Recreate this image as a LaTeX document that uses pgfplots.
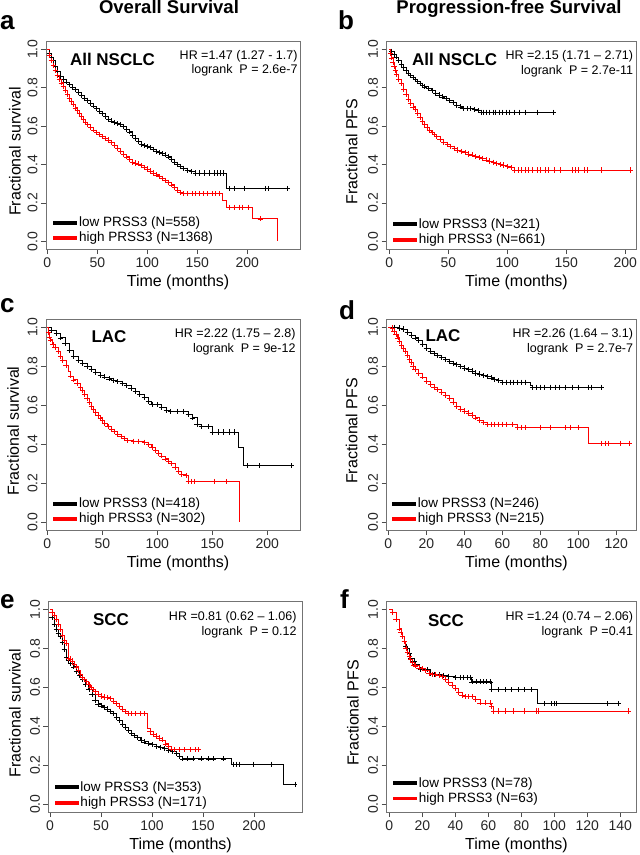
\documentclass[border=0pt]{standalone}
\usepackage{pgfplots}
\usepackage{pgfplotstable}
\pgfplotsset{compat=1.18}
\usepackage{fontspec}
\setmainfont{Liberation Sans}
\setsansfont{Liberation Sans}

\pgfplotstableread{
t s m
0 1.0 0
2 0.98 1
4 0.96 1
6 0.94 1
8 0.91 1
10 0.885 1
13 0.86 1
16 0.845 1
19 0.83 1
22 0.815 1
25 0.80 1
28 0.79 1
31 0.775 1
34 0.76 1
37 0.745 1
40 0.735 1
43 0.72 1
46 0.705 1
49 0.69 1
52 0.677 1
55 0.665 1
58 0.65 1
61 0.637 1
64 0.627 1
67 0.618 1
70 0.612 1
73 0.607 1
76 0.598 1
79 0.585 1
82 0.57 1
85 0.552 1
88 0.535 1
91 0.52 1
94 0.505 1
97 0.498 1
100 0.493 1
103 0.487 1
106 0.478 1
109 0.468 1
112 0.462 1
115 0.456 1
118 0.45 1
121 0.44 1
124 0.425 1
127 0.41 1
130 0.40 1
133 0.39 1
136 0.38 1
140 0.37 1
144 0.362 1
148 0.356 1
152 0.356 1
157 0.356 1
162 0.356 1
167 0.356 1
170 0.356 1
173 0.356 1
176 0.356 1
179 0.275 0
182 0.275 1
187 0.275 1
197 0.275 1
218 0.275 1
221 0.275 1
240 0.275 1
}\aLow

\pgfplotstableread{
t s m
0 1.0 0
2 0.97 1
4 0.94 1
6 0.915 1
8 0.89 1
10 0.865 1
12 0.845 1
14 0.825 1
16 0.805 1
18 0.785 1
20 0.765 1
22 0.745 1
24 0.73 1
26 0.715 1
28 0.695 1
30 0.68 1
32 0.665 1
34 0.65 1
36 0.635 1
38 0.62 1
40 0.61 1
43 0.595 1
46 0.58 1
49 0.568 1
52 0.557 1
55 0.547 1
58 0.537 1
61 0.527 1
64 0.515 1
67 0.50 1
70 0.485 1
73 0.47 1
76 0.455 1
79 0.44 1
82 0.425 1
85 0.413 1
88 0.408 1
91 0.403 1
94 0.395 1
97 0.385 1
100 0.376 1
103 0.366 1
106 0.356 1
109 0.346 1
112 0.336 1
115 0.328 1
118 0.318 1
121 0.307 1
124 0.294 1
127 0.28 1
130 0.266 1
133 0.254 1
136 0.248 1
140 0.248 1
145 0.248 1
148 0.248 1
152 0.248 1
156 0.248 1
160 0.248 1
165 0.248 1
168 0.248 1
172 0.248 1
175 0.213 0
179 0.178 0
182 0.178 1
187 0.178 1
192 0.178 1
195 0.178 1
201 0.178 1
205 0.117 0
213 0.117 1
230 0.0 0
}\aHigh

\pgfplotstableread{
t s m
0 1.0 0
2 0.99 1
4 0.975 1
6 0.96 1
8 0.94 1
10 0.92 1
12 0.905 1
14 0.89 1
16 0.875 1
18 0.862 1
20 0.852 1
22 0.842 1
24 0.832 1
26 0.822 1
28 0.812 1
30 0.804 1
33 0.794 1
36 0.784 1
39 0.772 1
42 0.762 1
45 0.752 1
48 0.742 1
51 0.732 1
54 0.722 1
57 0.71 1
60 0.70 1
63 0.692 1
66 0.69 1
69 0.69 1
72 0.685 1
75 0.68 1
78 0.672 1
80 0.672 1
82 0.672 1
85 0.672 1
88 0.672 1
90 0.672 1
93 0.672 1
96 0.672 1
99 0.672 1
102 0.672 1
106 0.672 1
110 0.672 1
115 0.672 1
125 0.672 1
139 0.672 1
}\bLow

\pgfplotstableread{
t s m
0 1.0 0
1 0.98 1
2 0.955 1
3 0.93 1
4 0.91 1
5 0.89 1
6 0.87 1
8 0.845 1
10 0.82 1
12 0.79 1
14 0.765 1
16 0.74 1
18 0.72 1
20 0.70 1
22 0.685 1
24 0.665 1
26 0.645 1
28 0.625 1
30 0.61 1
32 0.595 1
34 0.58 1
36 0.565 1
38 0.555 1
40 0.545 1
43 0.53 1
46 0.515 1
49 0.505 1
52 0.495 1
55 0.485 1
58 0.475 1
61 0.468 1
64 0.462 1
67 0.455 1
70 0.45 1
73 0.443 1
76 0.437 1
79 0.43 1
82 0.424 1
85 0.418 1
88 0.412 1
91 0.406 1
94 0.40 1
97 0.397 1
100 0.39 1
103 0.383 1
106 0.371 1
109 0.371 1
112 0.371 1
115 0.371 1
118 0.371 1
121 0.371 1
125 0.371 1
128 0.371 1
132 0.371 1
135 0.371 1
140 0.371 1
145 0.371 1
155 0.371 1
158 0.371 1
160 0.371 1
165 0.371 1
168 0.371 1
180 0.371 1
204 0.371 1
}\bHigh

\pgfplotstableread{
t s m
0 1.0 0
4 0.985 1
8 0.97 1
12 0.945 1
16 0.915 1
20 0.88 1
24 0.85 1
28 0.83 1
32 0.815 1
36 0.80 1
40 0.785 1
44 0.77 1
48 0.755 1
52 0.745 1
56 0.735 1
60 0.728 1
64 0.72 1
68 0.712 1
72 0.70 1
76 0.685 1
80 0.67 1
84 0.655 1
88 0.64 1
92 0.62 1
95 0.603 1
100 0.603 1
104 0.59 1
108 0.575 1
112 0.567 1
118 0.567 1
124 0.567 1
128 0.552 1
132 0.535 1
136 0.50 1
140 0.49 1
146 0.49 1
150 0.462 1
155 0.462 1
160 0.462 1
165 0.462 1
170 0.462 1
174 0.385 0
178 0.29 0
182 0.29 1
193 0.29 1
222 0.29 1
}\cLow

\pgfplotstableread{
t s m
0 1.0 0
1 0.975 1
2 0.95 1
3 0.935 1
5 0.91 1
7 0.895 1
10 0.875 1
12 0.85 1
14 0.83 1
17 0.805 1
19 0.775 0
21 0.75 1
24 0.73 1
27 0.71 1
30 0.69 1
32 0.675 1
34 0.655 1
36 0.635 1
38 0.615 1
40 0.595 1
42 0.58 1
44 0.565 1
46 0.55 1
48 0.535 1
50 0.52 1
52 0.505 1
55 0.49 1
58 0.478 1
61 0.465 1
64 0.452 1
67 0.44 1
70 0.43 1
73 0.418 1
78 0.415 1
83 0.415 1
88 0.41 1
92 0.40 1
95 0.385 1
98 0.37 1
101 0.355 1
104 0.34 1
107 0.325 1
110 0.31 1
113 0.30 1
116 0.28 1
119 0.26 1
122 0.245 1
126 0.24 1
128 0.209 1
131 0.209 1
134 0.209 1
152 0.209 1
163 0.209 1
175 0.0 0
}\cHigh

\pgfplotstableread{
t s m
0 1.0 0
3 1.0 1
6 0.995 1
8 0.99 1
10 0.975 1
12 0.96 1
14 0.945 1
16 0.93 1
18 0.91 1
20 0.89 1
22 0.875 1
24 0.865 1
26 0.855 1
28 0.845 1
30 0.835 1
32 0.825 1
34 0.815 1
36 0.81 1
38 0.80 1
40 0.79 1
42 0.782 1
44 0.775 1
46 0.765 1
48 0.76 1
50 0.752 1
52 0.746 1
54 0.74 1
56 0.732 1
58 0.725 1
60 0.718 1
62 0.718 1
64 0.718 1
66 0.718 1
68 0.718 1
70 0.718 1
72 0.718 1
75 0.70 0
76 0.692 1
78 0.692 1
80 0.692 1
82 0.692 1
85 0.692 1
88 0.692 1
90 0.692 1
93 0.692 1
97 0.692 1
100 0.692 1
105 0.692 1
107 0.692 1
112 0.692 1
}\dLow

\pgfplotstableread{
t s m
0 1.0 0
2 0.995 1
3 0.98 1
4 0.965 1
5 0.945 1
6 0.925 1
7 0.905 1
8 0.89 1
9 0.875 1
10 0.855 1
11 0.835 1
12 0.82 1
13 0.80 1
14 0.785 1
16 0.765 1
18 0.745 1
20 0.72 1
22 0.705 1
24 0.69 1
26 0.68 1
28 0.665 1
30 0.65 1
32 0.635 1
34 0.615 1
36 0.595 1
38 0.58 1
40 0.57 1
42 0.56 1
44 0.55 1
46 0.535 1
48 0.52 1
50 0.51 1
52 0.502 1
54 0.502 1
56 0.502 1
58 0.502 1
60 0.502 1
62 0.502 1
65 0.502 1
68 0.485 1
70 0.485 1
72 0.485 1
80 0.485 1
85 0.485 1
93 0.485 1
96 0.485 1
100 0.485 1
105 0.405 0
112 0.405 1
114 0.405 1
116 0.405 1
122 0.405 1
127 0.405 1
}\dHigh

\pgfplotstableread{
t s m
0 1.0 0
2 0.96 1
4 0.925 1
6 0.895 1
8 0.875 1
10 0.86 1
12 0.83 1
14 0.795 1
16 0.755 1
18 0.74 1
20 0.725 1
23 0.705 1
26 0.68 1
29 0.66 1
32 0.64 1
35 0.615 1
38 0.59 1
41 0.565 1
44 0.535 1
47 0.515 1
50 0.505 1
53 0.498 1
56 0.488 1
59 0.477 1
62 0.465 1
65 0.445 1
68 0.43 1
71 0.41 1
74 0.395 1
77 0.38 1
80 0.365 1
83 0.352 1
86 0.342 1
89 0.33 1
92 0.32 1
96 0.312 1
100 0.305 1
104 0.298 1
108 0.29 1
112 0.285 1
116 0.278 1
120 0.27 1
124 0.26 1
127 0.245 1
130 0.233 1
135 0.233 1
140 0.233 1
148 0.233 1
155 0.233 1
160 0.233 1
170 0.233 1
178 0.205 0
180 0.205 1
183 0.205 1
186 0.205 1
199 0.205 1
217 0.205 1
229 0.103 0
240 0.103 1
}\eLow

\pgfplotstableread{
t s m
0 1.0 0
2 0.985 1
4 0.97 1
6 0.95 1
8 0.925 1
10 0.895 1
12 0.865 1
14 0.84 1
16 0.825 1
18 0.75 1
20 0.745 1
22 0.735 1
24 0.72 1
26 0.705 1
28 0.685 1
30 0.665 1
32 0.65 1
34 0.64 1
36 0.63 1
38 0.615 1
40 0.60 1
42 0.588 1
44 0.578 1
47 0.565 1
50 0.555 1
53 0.55 1
56 0.548 1
59 0.543 1
62 0.53 1
65 0.518 1
68 0.50 1
71 0.488 1
74 0.475 1
77 0.467 1
80 0.465 1
84 0.465 1
88 0.465 1
92 0.465 1
95 0.39 0
98 0.375 1
101 0.36 1
104 0.35 1
107 0.34 1
110 0.33 1
113 0.31 1
116 0.298 1
119 0.284 1
122 0.28 1
127 0.28 1
132 0.28 1
137 0.28 1
142 0.28 1
145 0.28 1
}\eHigh

\pgfplotstableread{
t s m
0 1.0 0
2 0.985 1
4 0.95 1
6 0.90 1
7 0.88 1
8 0.86 1
9 0.835 1
10 0.81 1
11 0.80 1
12 0.775 1
13 0.75 1
15 0.735 1
16 0.72 1
18 0.70 1
19 0.69 1
23 0.69 1
25 0.672 1
27 0.665 1
30 0.665 1
33 0.66 1
36 0.655 1
40 0.65 1
43 0.65 1
45 0.65 1
47 0.65 1
49 0.65 1
50 0.628 1
53 0.628 1
55 0.628 1
57 0.628 1
59 0.628 1
61 0.628 1
62 0.588 1
66 0.588 1
70 0.588 1
74 0.588 1
78 0.588 1
82 0.588 1
86 0.588 1
89.5 0.516 0
94 0.516 1
98 0.516 1
100 0.516 1
101 0.516 1
132 0.516 1
139 0.516 1
}\fLow

\pgfplotstableread{
t s m
0 1.0 0
2 0.985 1
4 0.95 1
6 0.90 1
7 0.88 1
8 0.86 1
9 0.835 1
10 0.80 1
11 0.78 1
12 0.76 1
13 0.745 1
14 0.73 1
15 0.715 1
16 0.71 1
18 0.70 1
20 0.695 1
22 0.685 1
24 0.672 1
26 0.665 1
28 0.665 1
30 0.66 1
32 0.655 1
34 0.64 1
36 0.625 1
38 0.61 1
40 0.595 1
42 0.575 1
44 0.56 1
46 0.552 1
48 0.552 1
50 0.552 1
52 0.54 1
55 0.52 1
58 0.52 1
61 0.52 1
62 0.50 1
63 0.478 1
66 0.478 1
70 0.478 1
75 0.478 1
82 0.478 1
89 0.478 1
90 0.478 1
145 0.478 1
}\fHigh

\pgfplotsset{
  km/.style={
    scale only axis,
    ymin=-0.04, ymax=1.04,
    ytick={0,0.2,0.4,0.6,0.8,1},
    yticklabels={0.0,0.2,0.4,0.6,0.8,1.0},
    /pgf/number format/assume math mode=true,
    tick align=outside, tick pos=left,
    major tick length=5pt,
    axis line style={black!55, line width=0.6pt},
    every tick/.style={black!70, line width=0.6pt},
    tick label style={font=\fontsize{14}{16}\selectfont, text=black!85},
    yticklabel style={rotate=90, anchor=south},
    xlabel={Time (months)},
    xlabel style={font=\fontsize{16}{18}\selectfont, at={(axis description cs:0.52,0)}, anchor=base, yshift=-37.7pt},
    ylabel style={font=\fontsize{16}{18}\selectfont, anchor=center},
    legend style={draw=none, fill=none, anchor=south west, font=\fontsize{13.5}{15}\selectfont, inner sep=0pt, row sep=0pt, nodes={inner sep=2pt}},
    legend cell align=left,
    legend image code/.code={\fill[#1] (0pt,-1.4pt) rectangle (23pt,1.4pt);},
  },
  kmline/.style={const plot, line width=0.7pt},
  kmmark/.style={only marks, mark=+, mark size=2.6pt, mark options={line width=0.55pt}, forget plot, restrict expr to domain={\thisrow{m}}{0.5:1.5}},
}

\begin{document}
\begin{tikzpicture}
\path[use as bounding box] (0pt,0pt) rectangle (640pt,-855pt);

% ---------- a ----------
\begin{axis}[km, at={(46pt,-41.5pt)}, anchor=north west, width=254pt, height=207.5pt,
  xmin=-1.3, xmax=252.7, xtick={0,50,100,150,200},
  ylabel={Fractional survival}, ylabel style={at={(axis description cs:-0.122,0.47)}},
  legend style={at={(0.028,0.016)}}]
\addplot[kmline, black] table[x=t,y=s]{\aLow};
\addlegendentry{low PRSS3 (N=558)}
\addplot[kmmark, black] table[x=t,y=s]{\aLow};
\addplot[kmline, red] table[x=t,y=s]{\aHigh};
\addlegendentry{high PRSS3 (N=1368)}
\addplot[kmmark, red] table[x=t,y=s]{\aHigh};
\end{axis}

% ---------- b ----------
\begin{axis}[km, at={(386.5pt,-41.5pt)}, anchor=north west, width=250pt, height=207.5pt,
  xmin=-2.4, xmax=209.5, xtick={0,50,100,150,200},
  ylabel={Fractional PFS}, ylabel style={at={(axis description cs:-0.139,0.47)}},
  legend style={at={(0.026,0.008)}}]
\addplot[kmline, black] table[x=t,y=s]{\bLow};
\addlegendentry{low PRSS3 (N=321)}
\addplot[kmmark, black] table[x=t,y=s]{\bLow};
\addplot[kmline, red] table[x=t,y=s]{\bHigh};
\addlegendentry{high PRSS3 (N=661)}
\addplot[kmmark, red] table[x=t,y=s]{\bHigh};
\end{axis}

% ---------- c ----------
\begin{axis}[km, at={(46pt,-319.3pt)}, anchor=north west, width=254pt, height=210.7pt,
  xmin=-1.2, xmax=229.7, xtick={0,50,100,150,200},
  ylabel={Fractional survival}, ylabel style={at={(axis description cs:-0.129,0.47)}},
  legend style={at={(0.028,0.016)}}]
\addplot[kmline, black] table[x=t,y=s]{\cLow};
\addlegendentry{low PRSS3 (N=418)}
\addplot[kmmark, black] table[x=t,y=s]{\cLow};
\addplot[kmline, red] table[x=t,y=s]{\cHigh};
\addlegendentry{high PRSS3 (N=302)}
\addplot[kmmark, red] table[x=t,y=s]{\cHigh};
\end{axis}

% ---------- d ----------
\begin{axis}[km, at={(386.5pt,-319.3pt)}, anchor=north west, width=250pt, height=210.7pt,
  xmin=-0.95, xmax=130.6, xtick={0,20,40,60,80,100,120},
  ylabel={Fractional PFS}, ylabel style={at={(axis description cs:-0.139,0.47)}},
  legend style={at={(0.022,0.016)}}]
\addplot[kmline, black] table[x=t,y=s]{\dLow};
\addlegendentry{low PRSS3 (N=246)}
\addplot[kmmark, black] table[x=t,y=s]{\dLow};
\addplot[kmline, red] table[x=t,y=s]{\dHigh};
\addlegendentry{high PRSS3 (N=215)}
\addplot[kmmark, red] table[x=t,y=s]{\dHigh};
\end{axis}

% ---------- e ----------
\begin{axis}[km, at={(48.5pt,-601.5pt)}, anchor=north west, width=254pt, height=210.5pt,
  xmin=-1.5, xmax=247.5, xtick={0,50,100,150,200},
  ylabel={Fractional survival}, ylabel style={at={(axis description cs:-0.132,0.47)}},
  legend style={at={(0.024,0.008)}}]
\addplot[kmline, black] table[x=t,y=s]{\eLow};
\addlegendentry{low PRSS3 (N=353)}
\addplot[kmmark, black] table[x=t,y=s]{\eLow};
\addplot[kmline, red] table[x=t,y=s]{\eHigh};
\addlegendentry{high PRSS3 (N=171)}
\addplot[kmmark, red] table[x=t,y=s]{\eHigh};
\end{axis}

% ---------- f ----------
\begin{axis}[km, at={(386.5pt,-601.5pt)}, anchor=north west, width=250pt, height=210.5pt,
  xmin=-1.7, xmax=149.8, xtick={0,20,40,60,80,100,120,140},
  ylabel={Fractional PFS}, ylabel style={at={(axis description cs:-0.134,0.47)}},
  legend style={at={(0.026,0.028)}}]
\addplot[kmline, black] table[x=t,y=s]{\fLow};
\addlegendentry{low PRSS3 (N=78)}
\addplot[kmmark, black] table[x=t,y=s]{\fLow};
\addplot[kmline, red] table[x=t,y=s]{\fHigh};
\addlegendentry{high PRSS3 (N=63)}
\addplot[kmmark, red] table[x=t,y=s]{\fHigh};
\end{axis}

% ---------- titles and letters ----------
\begin{scope}[every node/.style={inner sep=0pt}]
\node[anchor=base, font=\bfseries\fontsize{18.5}{20}\selectfont] at (169pt,-13.8pt) {Overall Survival};
\node[anchor=base, font=\bfseries\fontsize{18.5}{20}\selectfont] at (509pt,-13.8pt) {Progression-free Survival};
\node[anchor=base west, font=\bfseries\fontsize{26}{28}\selectfont] at (0pt,-29pt) {a};
\node[anchor=base west, font=\bfseries\fontsize{26}{28}\selectfont] at (338pt,-29pt) {b};
\node[anchor=base west, font=\bfseries\fontsize{26}{28}\selectfont] at (0pt,-312.7pt) {c};
\node[anchor=base west, font=\bfseries\fontsize{26}{28}\selectfont] at (339pt,-319.5pt) {d};
\node[anchor=base west, font=\bfseries\fontsize{26}{28}\selectfont] at (0pt,-608pt) {e};
\node[anchor=base west, font=\bfseries\fontsize{26}{28}\selectfont] at (340pt,-608pt) {f};
% subset labels
\node[anchor=base, font=\bfseries\fontsize{17}{19}\selectfont] at (112.5pt,-65.7pt) {All NSCLC};
\node[anchor=base, font=\bfseries\fontsize{17}{19}\selectfont] at (454.7pt,-65pt) {All NSCLC};
\node[anchor=base, font=\bfseries\fontsize{17}{19}\selectfont] at (109pt,-342.7pt) {LAC};
\node[anchor=base, font=\bfseries\fontsize{17}{19}\selectfont] at (443pt,-341.7pt) {LAC};
\node[anchor=base, font=\bfseries\fontsize{17}{19}\selectfont] at (111pt,-625.7pt) {SCC};
\node[anchor=base, font=\bfseries\fontsize{17}{19}\selectfont] at (446pt,-626.7pt) {SCC};
% HR texts
\node[anchor=base east, font=\fontsize{12.5}{14}\selectfont] at (297.7pt,-59pt) {HR =1.47 (1.27 - 1.7)};
\node[anchor=base east, font=\fontsize{12.5}{14}\selectfont] at (297.7pt,-73.5pt) {logrank\ \ P = 2.6e-7};
\node[anchor=base east, font=\fontsize{12.5}{14}\selectfont] at (633.3pt,-59.5pt) {HR =2.15 (1.71 – 2.71)};
\node[anchor=base east, font=\fontsize{12.5}{14}\selectfont] at (633.3pt,-74pt) {logrank\ \ P = 2.7e-11};
\node[anchor=base east, font=\fontsize{12.5}{14}\selectfont] at (295.7pt,-337.7pt) {HR =2.22 (1.75 – 2.8)};
\node[anchor=base east, font=\fontsize{12.5}{14}\selectfont] at (295.7pt,-352.7pt) {logrank\ \ P = 9e-12};
\node[anchor=base east, font=\fontsize{12.5}{14}\selectfont] at (633.3pt,-337.7pt) {HR =2.26 (1.64 – 3.1)};
\node[anchor=base east, font=\fontsize{12.5}{14}\selectfont] at (633.3pt,-352.7pt) {logrank\ \ P = 2.7e-7};
\node[anchor=base east, font=\fontsize{12.5}{14}\selectfont] at (296.7pt,-620pt) {HR =0.81 (0.62 – 1.06)};
\node[anchor=base east, font=\fontsize{12.5}{14}\selectfont] at (296.7pt,-635pt) {logrank\ \ P = 0.12};
\node[anchor=base east, font=\fontsize{12.5}{14}\selectfont] at (633.3pt,-620pt) {HR =1.24 (0.74 – 2.06)};
\node[anchor=base east, font=\fontsize{12.5}{14}\selectfont] at (633.3pt,-635pt) {logrank\ \ P =0.41};
\end{scope}
\end{tikzpicture}
\end{document}
